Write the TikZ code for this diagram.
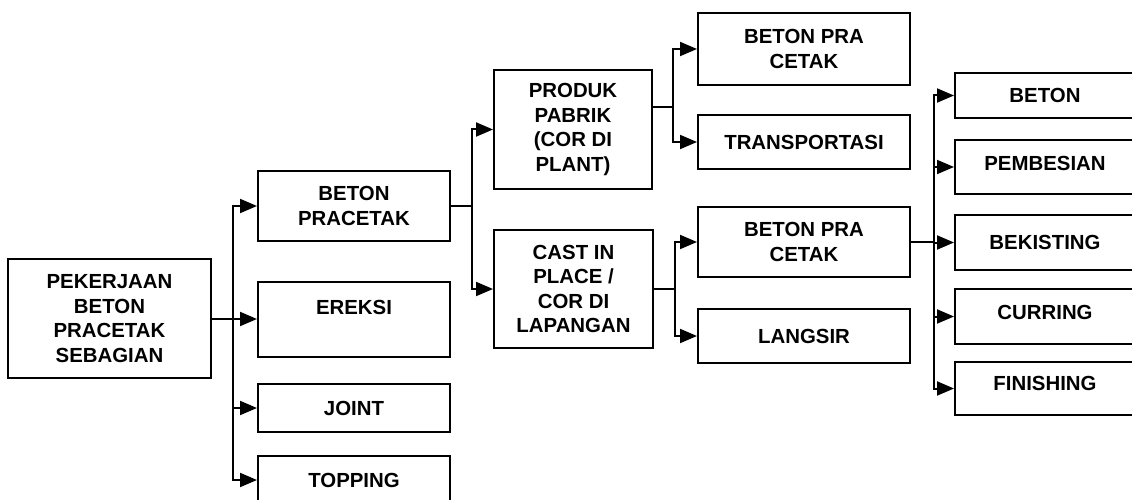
\documentclass[tikz,border=0pt]{standalone}
\usepackage{fontspec}
\setmainfont{Liberation Sans}
\usetikzlibrary{arrows.meta}
\begin{document}
\begin{tikzpicture}[x=1pt,y=-1pt,
  box/.style={draw,line width=2pt,inner sep=0pt,align=center,
    font=\fontsize{20.4}{24.5}\selectfont\bfseries},
  arr/.style={line width=2pt,-{Triangle[length=17pt,width=14pt]}}]
\useasboundingbox (0,0) rectangle (1132,500);
% column 1
\node[box,minimum width=203pt,minimum height=119pt] (b1) at (109.5,318.5) {PEKERJAAN\\BETON\\PRACETAK\\SEBAGIAN};
% column 2
\node[box,minimum width=192pt,minimum height=70pt] (b2) at (354,206) {BETON\\PRACETAK};
\node[box,minimum width=192pt,minimum height=75pt,text depth=24pt] (b3) at (354,319) {EREKSI};
\node[box,minimum width=192pt,minimum height=48pt] (b4) at (354,408) {JOINT};
\node[box,minimum width=192pt,minimum height=48pt] (b5) at (354,480) {TOPPING};
% column 3
\node[box,minimum width=158pt,minimum height=119pt] (b6) at (573,129.5) {PRODUK\\PABRIK\\(COR DI\\PLANT)};
\node[box,minimum width=159pt,minimum height=118pt] (b7) at (573.5,289) {CAST IN\\PLACE /\\COR DI\\LAPANGAN};
% column 4
\node[box,minimum width=212pt,minimum height=72pt] (b8) at (804,49) {BETON PRA\\CETAK};
\node[box,minimum width=212pt,minimum height=54pt] (b9) at (804,142) {TRANSPORTASI};
\node[box,minimum width=212pt,minimum height=70pt] (b10) at (804,242) {BETON PRA\\CETAK};
\node[box,minimum width=212pt,minimum height=54pt] (b11) at (804,336) {LANGSIR};
% column 5
\node[box,minimum width=180pt,minimum height=45pt] (b12) at (1045,95.5) {BETON};
\node[box,minimum width=180pt,minimum height=54pt,text depth=8pt] (b13) at (1045,167) {PEMBESIAN};
\node[box,minimum width=180pt,minimum height=55pt] (b14) at (1045,242.5) {BEKISTING};
\node[box,minimum width=180pt,minimum height=55pt,text depth=8pt] (b15) at (1045,316.5) {CURRING};
\node[box,minimum width=180pt,minimum height=53pt,text depth=10pt] (b16) at (1045,388.5) {FINISHING};
% bus positions
\coordinate (bus1) at (233,0);
\coordinate (bus2) at (472,0);
\coordinate (bus3) at (673,0);
\coordinate (bus4) at (675,0);
\coordinate (bus5) at (934,0);
\coordinate (p6) at ([yshift=22.5pt]b6.east);
% connectors
\foreach \c in {b2,b3,b4,b5} \draw[arr] (b1.east) -- (b1.east -| bus1) |- (\c.west);
\foreach \c in {b6,b7} \draw[arr] (b2.east) -- (b2.east -| bus2) |- (\c.west);
\foreach \c in {b8,b9} \draw[arr] (p6) -- (p6 -| bus3) |- (\c.west);
\foreach \c in {b10,b11} \draw[arr] (b7.east) -- (b7.east -| bus4) |- (\c.west);
\foreach \c in {b12,b13,b14,b15,b16} \draw[arr] (b10.east) -- (b10.east -| bus5) |- (\c.west);
\end{tikzpicture}
\end{document}
